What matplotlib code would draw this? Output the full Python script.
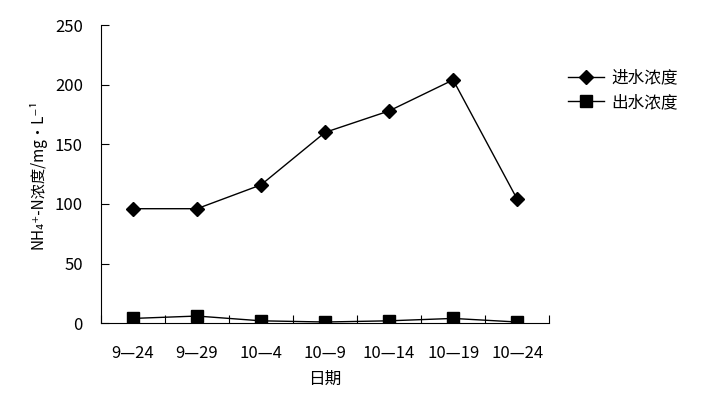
import numpy as np
import matplotlib.pyplot as plt

plt.rcParams['font.family'] = ['Noto Sans CJK SC', 'DejaVu Sans']

dates = ['9—24', '9—29', '10—4', '10—9', '10—14', '10—19', '10—24']
inflow = [96, 96, 116, 160, 178, 204, 104]
outflow = [4, 6, 2, 1, 2, 4, 1]

fig = plt.figure(figsize=(7.16, 4.04), dpi=100)
ax = fig.add_axes([0.141, 0.200, 0.626, 0.738])

x = np.arange(len(dates))
ax.plot(x, inflow, color='black', lw=1, marker='D', ms=7.5, label='进水浓度')
ax.plot(x, outflow, color='black', lw=1, marker='s', ms=8.5, label='出水浓度')

ax.set_xlim(-0.5, len(dates) - 0.5)
ax.set_ylim(0, 250)
ax.set_yticks(np.arange(0, 251, 50))
# category ticks sit between the groups, labels centred under points
ax.set_xticks(np.arange(-0.5, len(dates) + 0.5, 1))
ax.set_xticklabels([])
ax.set_xticks(x, minor=True)
ax.set_xticklabels(dates, minor=True, fontsize=12)
ax.tick_params(axis='x', which='minor', length=0, pad=16)
ax.tick_params(axis='x', which='major', direction='in', length=6)
ax.tick_params(axis='y', direction='in', length=6, labelsize=12, pad=13)

for side in ['top', 'right']:
    ax.spines[side].set_visible(False)

ax.set_xlabel('日期', fontsize=12, labelpad=6)
ax.set_ylabel('NH₄⁺-N浓度/mg·L⁻¹', fontsize=11, labelpad=6)

fig.legend(loc='upper left', bbox_to_anchor=(0.772, 0.865), frameon=False,
           fontsize=12, handlelength=2.2, labelspacing=0.45, handletextpad=0.4)

fig.savefig('out.png', dpi=100)
